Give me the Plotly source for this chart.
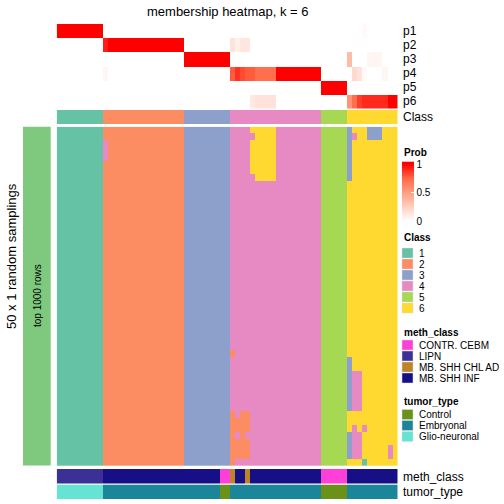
import plotly.graph_objects as go

# ---------------- data ----------------
n_cols = 67
prob_rows = ["p1", "p2", "p3", "p4", "p5", "p6"]

p1 = [1.0]*9 + [0.0]*16 + [0.0]*9 + [0.0]*18 + [0.0]*5 + [0, 0, 0, 0.03, 0, 0, 0, 0, 0, 0]
p2 = [0.0]*9 + [0.93] + [1.0]*15 + [0.0]*9 + [0.15, 0.08, 0.13, 0.13] + [0.0]*14 + [0.0]*5 + [0.0]*10
p3 = [0.0]*9 + [0.0]*16 + [1.0]*9 + [0.0]*18 + [0.0]*5 + [0.35, 0, 0, 0, 0.05, 0.05, 0.05, 0, 0, 0]
p4 = [0.0]*9 + [0.05] + [0.0]*15 + [0.0]*9 + [0.78, 0.88, 0.82, 0.78, 0.78, 0.72, 0.72, 0.72, 0.72] + [1.0]*9 + [0.0]*5 + [0, 0.2, 0.15, 0.03, 0, 0, 0, 0.05, 0, 0]
p5 = [0.0]*9 + [0.0]*16 + [0.0]*9 + [0.0]*18 + [1.0]*5 + [0.0]*10
p6 = [0.0]*9 + [0.0]*16 + [0.0]*9 + [0, 0, 0, 0, 0.12, 0.15, 0.15, 0.15, 0.15] + [0.0]*9 + [0.0]*5 + [0.55, 0.72, 0.85, 0.9, 0.9, 0.9, 0.9, 0.9, 1.0, 1.0]

class_row = "111111111 2222222222222222 333333333 444444444444444444 55555 6666666666"

# 50 random samplings x 67 samples, class label per cell (segments separated by spaces)
main_rows = [
    "111111111 2222222222222222 333333333 444466666444444444 55555 3666333666",
    "111111111 2222222222222222 333333333 444446666444444444 55555 3466333666",
    "111111111 4222222222222222 333333333 444466666444444444 55555 3666666666",
    "111111111 4222222222222222 333333333 444466666444444444 55555 3666666666",
    "111111111 4222222222222222 333333333 444466666444444444 55555 3666666666",
    "111111111 2222222222222222 333333333 444466666444444444 55555 3666666666",
    "111111111 2222222222222222 333333333 444466666444444444 55555 3666666666",
    "111111111 2222222222222222 333333333 444446666444444444 55555 3666666666",
] + [
    "111111111 2222222222222222 333333333 444444444444444444 55555 6666666666",
] * 25 + [
    "111111111 2222222222222222 333333333 244444444444444444 55555 6666666666",
    "111111111 2222222222222222 333333333 444444444444444444 55555 3666666666",
    "111111111 2222222222222222 333333333 444444444444444444 55555 3666666666",
    "111111111 2222222222222222 333333333 444444444444444444 55555 3446666666",
    "111111111 2222222222222222 333333333 444444444444444444 55555 3446666666",
    "111111111 2222222222222222 333333333 444444444444444444 55555 3446666666",
    "111111111 2222222222222222 333333333 444444444444444444 55555 3446666666",
    "111111111 2222222222222222 333333333 444444444444444444 55555 3446666666",
    "111111111 2222222222222222 333333333 444444444444444444 55555 3446666666",
    "111111111 2222222222222222 333333333 242244444444444444 55555 6666666666",
    "111111111 2222222222222222 333333333 222244444444444444 55555 6666666666",
    "111111111 2222222222222222 333333333 222244444444444444 55555 6464666666",
    "111111111 2222222222222222 333333333 242444444444444444 55555 3446666666",
    "111111111 2222222222222222 333333333 222244444444444444 55555 3446666666",
    "111111111 2222222222222222 333333333 222244444444444444 55555 3446666646",
    "111111111 2222222222222222 333333333 222244444444444444 55555 3446666646",
    "111111111 2222222222222222 333333333 244444444444444444 55555 6661666666",
]

meth_levels = ["CONTR. CEBM", "LIPN", "MB. SHH CHL AD", "MB. SHH INF"]
meth_runs = [("LIPN", 9), ("MB. SHH INF", 23), ("CONTR. CEBM", 2), ("MB. SHH CHL AD", 1),
             ("MB. SHH INF", 2), ("MB. SHH CHL AD", 1), ("MB. SHH INF", 14),
             ("CONTR. CEBM", 5), ("MB. SHH INF", 10)]
tumor_levels = ["Control", "Embryonal", "Glio-neuronal"]
tumor_runs = [("Glio-neuronal", 9), ("Embryonal", 23), ("Control", 2), ("Embryonal", 18),
              ("Control", 5), ("Embryonal", 10)]

class_levels = ["1", "2", "3", "4", "5", "6"]
class_colors = ["#66C2A5", "#FC8D62", "#8DA0CB", "#E78AC3", "#A6D854", "#FFD92F"]
meth_colors = ["#FF40D8", "#3A3096", "#BF8426", "#160F86"]
tumor_colors = ["#6A9219", "#1B8599", "#66E4D3"]

# ---------------- helpers ----------------
def py(p):
    return 1 - p / 504.0

def pxf(p):
    return p / 504.0

def step_scale(colors):
    n = len(colors)
    cs = []
    for i, c in enumerate(colors):
        cs.append([i / n, c])
        cs.append([(i + 1) / n, c])
    return cs

def expand(runs, levels):
    out = []
    for name, n in runs:
        out += [levels.index(name) + 1] * n
    return out

cols = list(range(n_cols))
main_z = [[int(ch) for ch in r.replace(" ", "")] for r in main_rows]
class_z = [[int(ch) for ch in class_row.replace(" ", "")]]
meth_z = [expand(meth_runs, meth_levels)]
tumor_z = [expand(tumor_runs, tumor_levels)]
prob_z = [p1, p2, p3, p4, p5, p6]

prob_scale = [[0, "#FFFFFF"], [0.25, "rgb(255,207,191)"], [0.5, "rgb(255,158,129)"],
              [0.75, "rgb(255,104,70)"], [1, "#FF0000"]]

FONT = "Liberation Sans"

fig = go.Figure()

fig.add_trace(go.Heatmap(z=prob_z, x=cols, y=prob_rows, xaxis="x", yaxis="y",
                         colorscale=prob_scale, zmin=0, zmax=1, hoverinfo="skip",
                         showscale=True,
                         colorbar=dict(x=pxf(402), xanchor="left", y=py(164.3), yanchor="top",
                                       len=56.5, lenmode="pixels", thickness=12, thicknessmode="pixels",
                                       xpad=0, ypad=0, outlinewidth=0,
                                       tickvals=[0, 0.5, 1], ticktext=["0", "0.5", "1"],
                                       ticks="inside", ticklen=3, tickcolor="white",
                                       tickfont=dict(size=10, family=FONT, color="black"))))
fig.add_trace(go.Heatmap(z=class_z, x=cols, y=["Class"], xaxis="x", yaxis="y2",
                         colorscale=step_scale(class_colors), zmin=0.5, zmax=6.5,
                         showscale=False, hoverinfo="skip"))
fig.add_trace(go.Heatmap(z=main_z, x=cols, y=list(range(len(main_rows))), xaxis="x", yaxis="y3",
                         colorscale=step_scale(class_colors), zmin=0.5, zmax=6.5,
                         showscale=False, hoverinfo="skip"))
fig.add_trace(go.Heatmap(z=meth_z, x=cols, y=["meth_class"], xaxis="x", yaxis="y4",
                         colorscale=step_scale(meth_colors), zmin=0.5, zmax=4.5,
                         showscale=False, hoverinfo="skip"))
fig.add_trace(go.Heatmap(z=tumor_z, x=cols, y=["tumor_type"], xaxis="x", yaxis="y5",
                         colorscale=step_scale(tumor_colors), zmin=0.5, zmax=3.5,
                         showscale=False, hoverinfo="skip"))

hid = dict(showticklabels=False, showgrid=False, zeroline=False, ticks="", showline=False)
fig.update_layout(
    width=504, height=504, margin=dict(l=0, r=0, t=0, b=0),
    paper_bgcolor="white", plot_bgcolor="white",
    font=dict(family=FONT, color="black"),
    xaxis=dict(domain=[pxf(56.7), pxf(397.7)], range=[-0.5, n_cols - 0.5], anchor="y3", **hid),
    yaxis=dict(domain=[py(108.5), py(24)], autorange="reversed", anchor="x", **hid),
    yaxis2=dict(domain=[py(124), py(110)], anchor="x", **hid),
    yaxis3=dict(domain=[py(466), py(126.7)], autorange="reversed", anchor="x", **hid),
    yaxis4=dict(domain=[py(483.5), py(469)], anchor="x", **hid),
    yaxis5=dict(domain=[py(499), py(484.5)], anchor="x", **hid),
    showlegend=False,
)

ann = []
def text(x, y, s, size=11, anchor="left", angle=0, bold=False):
    ann.append(dict(x=pxf(x), y=py(y), xref="paper", yref="paper", text=("<b>%s</b>" % s) if bold else s,
                    showarrow=False, xanchor=anchor, yanchor="middle", textangle=angle,
                    font=dict(size=size, family=FONT, color="black")))

text(228, 11, "membership heatmap, k = 6", size=13, anchor="center")
row_h = (108.5 - 24) / 6
for i, lab in enumerate(prob_rows):
    text(401, 24 + row_h * (i + 0.5), lab, size=12)
text(401, 117, "Class", size=12)
text(401, 476.5, "meth_class", size=12)
text(401, 492, "tumor_type", size=12)
text(11, 256, "50 x 1 random samplings", size=13, anchor="center", angle=-90)
text(37, 296, "top 1000 rows", size=10, anchor="center", angle=-90)

shapes = [dict(type="rect", xref="paper", yref="paper", x0=pxf(23), x1=pxf(50.7),
               y0=py(465.5), y1=py(126.7), fillcolor="#7FC97F", line=dict(width=0), layer="below"),
          # red cap above the top of the Prob colour bar
          dict(type="rect", xref="paper", yref="paper", x0=pxf(402), x1=pxf(414),
               y0=py(164.3), y1=py(161.7), fillcolor="#FF0000", line=dict(width=0))]

# legends
text(402, 152, "Prob", size=10, bold=True)
text(402, 237, "Class", size=10, bold=True)
for i, (lab, c) in enumerate(zip(class_levels, class_colors)):
    yc = 253 + 11 * i
    shapes.append(dict(type="rect", xref="paper", yref="paper", x0=pxf(402), x1=pxf(413),
                       y0=py(yc + 5), y1=py(yc - 5), fillcolor=c, line=dict(width=0.5, color="#dddddd")))
    text(417, yc, lab, size=10)
text(402, 332, "meth_class", size=10, bold=True)
for i, (lab, c) in enumerate(zip(meth_levels, meth_colors)):
    yc = 345 + 11 * i
    shapes.append(dict(type="rect", xref="paper", yref="paper", x0=pxf(402), x1=pxf(413),
                       y0=py(yc + 5), y1=py(yc - 5), fillcolor=c, line=dict(width=0.5, color="#dddddd")))
    text(417, yc, lab, size=10)
text(402, 401, "tumor_type", size=10, bold=True)
for i, (lab, c) in enumerate(zip(tumor_levels, tumor_colors)):
    yc = 414.5 + 11 * i
    shapes.append(dict(type="rect", xref="paper", yref="paper", x0=pxf(402), x1=pxf(413),
                       y0=py(yc + 5), y1=py(yc - 5), fillcolor=c, line=dict(width=0.5, color="#dddddd")))
    text(417, yc, lab, size=10)

fig.update_layout(annotations=ann, shapes=shapes)
fig.write_html("out.html", config={"displayModeBar": False},
               post_script="document.body.style.margin='0';document.body.style.padding='0';")
